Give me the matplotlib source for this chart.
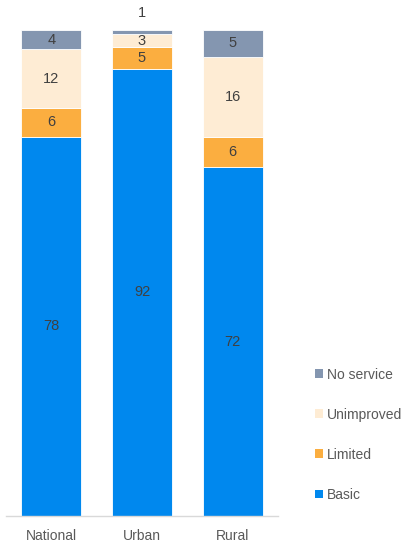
import matplotlib.pyplot as plt
from matplotlib.patches import Patch

categories = ['National', 'Urban', 'Rural']
series = ['Basic', 'Limited', 'Unimproved', 'No service']

# segment heights (percent)
basic = [78, 92, 71.8]
limited = [6, 4.4, 6.2]
unimproved = [12, 2.8, 16.5]
no_service = [4, 0.8, 5.5]

# numbers printed on the bars
basic_lbl = ['78', '92', '72']
limited_lbl = ['6', '5', '6']
unimproved_lbl = ['12', '3', '16']
no_service_lbl = ['4', '1', '5']

colors = ['#0088EE', '#FBAE40', '#FEECD4', '#8496B0']

plt.rcParams['font.family'] = ['Liberation Sans', 'DejaVu Sans']

fig = plt.figure(figsize=(4.17, 5.48), dpi=100)
ax = fig.add_axes([6 / 417, 32 / 548, 272 / 417, 486 / 548])

x = list(range(len(categories)))
values = [basic, limited, unimproved, no_service]
labels = [basic_lbl, limited_lbl, unimproved_lbl, no_service_lbl]
bottom = [0.0] * len(categories)
for vals, lbls, col, name in zip(values, labels, colors, series):
    ax.bar(x, vals, bottom=bottom, width=0.66, color=col, label=name,
           edgecolor='white', linewidth=0.6)
    for i in range(len(categories)):
        if vals[i] < 2:
            # too thin, put the number above the bar
            ypos = bottom[i] + vals[i] + 3.5
        else:
            ypos = bottom[i] + vals[i] / 2
        ax.text(x[i], ypos, lbls[i], ha='center', va='center',
                fontsize=10.5, color='#404040', clip_on=False)
    bottom = [b + v for b, v in zip(bottom, vals)]

ax.set_xlim(-0.5, 2.5)
ax.set_ylim(0, 100)
ax.set_xticks(x)
ax.set_xticklabels(categories, fontsize=10, color='#595959')
ax.tick_params(axis='x', length=0, pad=9)
ax.set_yticks([])
for s in ['top', 'right', 'left']:
    ax.spines[s].set_visible(False)
ax.spines['bottom'].set_color('#D9D9D9')
ax.spines['bottom'].set_linewidth(1)

handles = [Patch(facecolor=c, label=n) for c, n in zip(colors, series)]
fig.legend(handles[::-1], series[::-1], loc='upper left',
           bbox_to_anchor=(309 / 417, 1 - 362 / 548), frameon=False,
           fontsize=10, labelcolor='#595959', handlelength=0.6,
           handleheight=0.6, handletextpad=0.3, labelspacing=1.88,
           borderaxespad=0)

fig.savefig('out.png', dpi=100)
